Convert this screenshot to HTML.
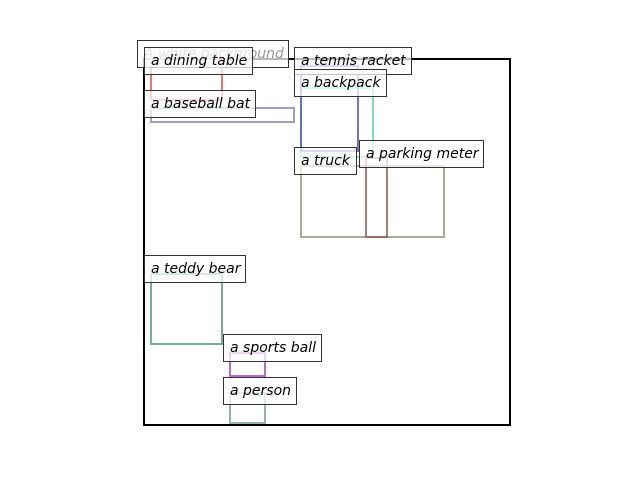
<!DOCTYPE html>
<html><head><meta charset="utf-8"><style>
body{margin:0;background:#fff;}
.w{position:relative;width:640px;height:480px;overflow:hidden;background:#fff;}
.b{position:absolute;box-sizing:border-box;border:2.5px solid;}
.l{position:absolute;box-sizing:border-box;height:28px;border:1px solid #333;background:rgba(255,255,255,0.72);font-family:"DejaVu Sans","Liberation Sans",sans-serif;font-style:italic;font-size:14px;line-height:26px;padding-left:6px;color:#000;white-space:nowrap;}
</style></head><body><div class="w">
<div class="b" style="left:143px;top:58px;width:368px;height:368px;border:2px solid #000;"></div>
<div class="b" style="left:150px;top:54px;width:73px;height:47px;border-color:rgba(230,80,70,0.8);"></div>
<div class="b" style="left:150px;top:107px;width:145px;height:16px;border-color:rgba(130,130,170,0.75);"></div>
<div class="b" style="left:300px;top:87px;width:74px;height:71px;border-color:rgba(90,215,170,0.8);"></div>
<div class="b" style="left:300px;top:65px;width:59px;height:87px;border-color:rgba(100,100,210,0.9);"></div>
<div class="b" style="left:300px;top:165px;width:145px;height:73px;border-color:rgba(150,150,130,0.8);"></div>
<div class="b" style="left:365px;top:157px;width:23px;height:81px;border-color:rgba(150,90,90,0.8);"></div>
<div class="b" style="left:150px;top:273px;width:73px;height:72px;border-color:rgba(90,160,125,0.85);"></div>
<div class="b" style="left:229px;top:352px;width:37px;height:25px;border-color:rgba(170,80,200,0.85);"></div>
<div class="b" style="left:229px;top:392px;width:37px;height:32px;border-color:rgba(130,165,165,0.85);"></div>
<div class="l" style="left:137px;top:40px;width:152px;color:#999;">A white background</div>
<div class="l" style="left:144px;top:47px;width:109px;">a dining table</div>
<div class="l" style="left:144px;top:90px;width:112px;">a baseball bat</div>
<div class="l" style="left:294px;top:47px;width:118px;">a tennis racket</div>
<div class="l" style="left:294px;top:69px;width:93px;">a backpack</div>
<div class="l" style="left:294px;top:147px;width:63px;">a truck</div>
<div class="l" style="left:359px;top:140px;width:125px;">a parking meter</div>
<div class="l" style="left:144px;top:255px;width:102px;">a teddy bear</div>
<div class="l" style="left:223px;top:334px;width:99px;">a sports ball</div>
<div class="l" style="left:223px;top:377px;width:74px;">a person</div>
</div></body></html>
